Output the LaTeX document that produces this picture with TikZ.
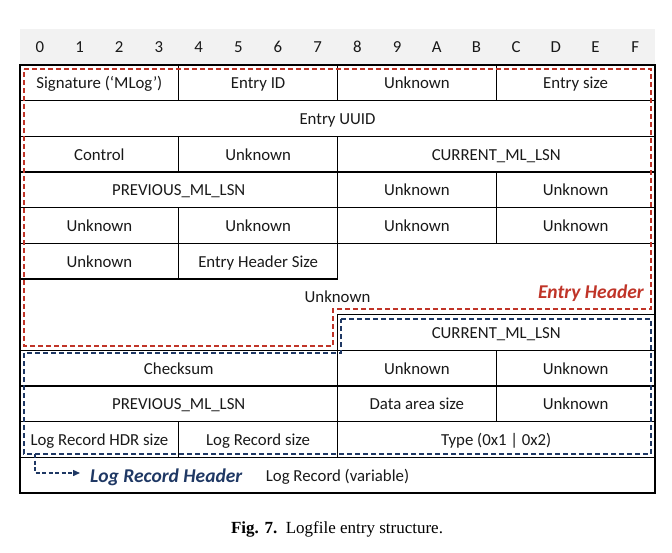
\documentclass[tikz,border=0pt]{standalone}
\usepackage{fontspec}
\setmainfont{Liberation Serif}
\newfontfamily\cellfont{Carlito}
\usetikzlibrary{arrows.meta}

\definecolor{hdrgray}{RGB}{242,242,242}
\definecolor{entryred}{RGB}{192,52,40}
\definecolor{recnavy}{RGB}{31,56,100}
\definecolor{celltext}{RGB}{25,25,25}

% column / row geometry (1 unit = 1pt, y grows downward)
\newcommand{\colw}{39.6875}
\newcommand{\rowh}{35.667}
\newcommand{\xo}{20}
\newcommand{\yo}{65}

% one table cell spanning byte columns #2..#3 on row #4
\newcommand{\bytecell}[5]{%
  \node[cellbox, minimum width={\colw*(#3-#2)*1pt}, minimum height={\rowh*1pt}]
    (#1) at ({\xo+\colw*(#2+#3)/2}, {\yo+\rowh*(#4+0.5)}) {#5};}

\tikzset{
  cellfontsize/.style={font=\cellfont\fontsize{16.8}{18}\selectfont, text=celltext,
    text height=13.5pt, text depth=1.8pt},
  cellbox/.style={draw=black, line width=1.3pt, inner sep=0pt, cellfontsize},
  celltxt/.style={inner sep=0pt, cellfontsize},
  framebox/.style={draw=black, line width=1.3pt},
  tag/.style={inner sep=0pt, font=\cellfont\bfseries\itshape\fontsize{19.5}{22}\selectfont},
}

\begin{document}
\begin{tikzpicture}[x=1pt, y=-1pt]
\useasboundingbox (0,0) rectangle (672,552);

% byte offset header band
\fill[hdrgray] (\xo,29) rectangle (655,\yo);
\foreach \d [count=\i from 0] in {0,1,2,3,4,5,6,7,8,9,A,B,C,D,E,F}
  \node[celltxt] (off\d) at ({\xo+\colw*(\i+0.5)}, 47) {\d};

% row 0
\bytecell{sig}{0}{4}{0}{Signature (‘MLog’)}
\bytecell{eid}{4}{8}{0}{Entry ID}
\bytecell{unkA}{8}{12}{0}{Unknown}
\bytecell{esize}{12}{16}{0}{Entry size}
% row 1
\bytecell{uuid}{0}{16}{1}{Entry UUID}
% row 2
\bytecell{ctrl}{0}{4}{2}{Control}
\bytecell{unkB}{4}{8}{2}{Unknown}
\bytecell{curA}{8}{16}{2}{CURRENT\_ML\_LSN}
% row 3
\bytecell{prevA}{0}{8}{3}{PREVIOUS\_ML\_LSN}
\bytecell{unkC}{8}{12}{3}{Unknown}
\bytecell{unkD}{12}{16}{3}{Unknown}
% row 4
\bytecell{unkE}{0}{4}{4}{Unknown}
\bytecell{unkF}{4}{8}{4}{Unknown}
\bytecell{unkG}{8}{12}{4}{Unknown}
\bytecell{unkH}{12}{16}{4}{Unknown}
% row 5
\bytecell{unkI}{0}{4}{5}{Unknown}
\bytecell{ehsize}{4}{8}{5}{Entry Header Size}
% L-shaped field over rows 5..7
\draw[framebox] ({\xo+\colw*8},{\yo+\rowh*5}) -- ({\xo+\colw*16},{\yo+\rowh*5})
  -- ({\xo+\colw*16},{\yo+\rowh*7}) -- ({\xo+\colw*8},{\yo+\rowh*7})
  -- ({\xo+\colw*8},{\yo+\rowh*8}) -- ({\xo},{\yo+\rowh*8})
  -- ({\xo},{\yo+\rowh*6});
\node[celltxt] (unkL) at ({\xo+\colw*8}, {\yo+\rowh*6.5}) {Unknown};
% row 7
\bytecell{curB}{8}{16}{7}{CURRENT\_ML\_LSN}
% row 8
\bytecell{chk}{0}{8}{8}{Checksum}
\bytecell{unkJ}{8}{12}{8}{Unknown}
\bytecell{unkK}{12}{16}{8}{Unknown}
% row 9
\bytecell{prevB}{0}{8}{9}{PREVIOUS\_ML\_LSN}
\bytecell{dsize}{8}{12}{9}{Data area size}
\bytecell{unkM}{12}{16}{9}{Unknown}
% row 10
\bytecell{hdrsz}{0}{4}{10}{Log Record HDR size}
\bytecell{lrsz}{4}{8}{10}{Log Record size}
\bytecell{type}{8}{16}{10}{Type (0x1 | 0x2)}
% row 11
\bytecell{lrvar}{0}{16}{11}{Log Record (variable)}

% entry header outline
\draw[entryred, line width=1.4pt, dash pattern=on 5pt off 3pt]
  (24,69) -- (651,69) -- (651,309) -- (333,309) -- (333,346) -- (24,346) -- cycle;
\node[tag, text=entryred, anchor=base east] (entryTag) at (644,298) {Entry Header};

% log record header outline
\draw[recnavy, line width=1.4pt, dash pattern=on 5pt off 3pt]
  (341,319) -- (651,319) -- (651,454) -- (24,454) -- (24,353) -- (341,353) -- cycle;
\coordinate (recFoot) at (35,454);
\node[tag, text=recnavy, anchor=base west] (recTag) at (90,482) {Log Record Header};
\draw[recnavy, line width=1.4pt, dash pattern=on 4pt off 2.5pt, -{Triangle[length=7pt,width=6pt]}]
  (recFoot) |- ([xshift=-10pt]recTag.west |- 0,473);

% caption
\node[font=\fontsize{17}{19}\selectfont, anchor=base] (caption) at (337,533)
  {\textbf{Fig. 7.}\enspace Logfile entry structure.};
\end{tikzpicture}
\end{document}
